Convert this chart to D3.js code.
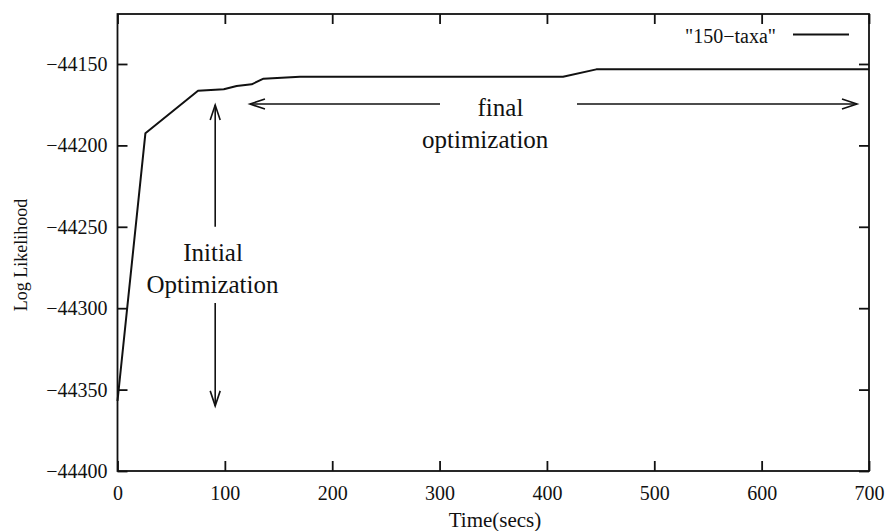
<!DOCTYPE html>
<html>
<head>
<meta charset="utf-8">
<script src="https://cdn.jsdelivr.net/npm/d3@7"></script>
<style>
  html, body { margin: 0; padding: 0; background: #fff; }
  svg { display: block; }
  text { font-family: "Liberation Serif", "Times New Roman", serif; fill: #111; }
</style>
</head>
<body>
<svg id="chart" width="889" height="531"></svg>
<script>
// Run time (seconds) and log likelihood of the 150-taxa search
const times = [0, 26, 75, 99, 111, 125, 136, 170, 415, 446, 700];
const logLikelihood = [-44357, -44192.5, -44166.5, -44165.5, -44163.5, -44162.5, -44159, -44157.8, -44157.8, -44153.3, -44153.3];

const xTicks = [0, 100, 200, 300, 400, 500, 600, 700];
const yTicks = [-44400, -44350, -44300, -44250, -44200, -44150];
const seriesName = "\"150\u2212taxa\"";

// Annotation arrow positions, in data units
const initialArrowX = 91;
const finalArrowY = -44174.6;

const svg = d3.select("#chart");
const plotLeft = 117.5, plotRight = 869, plotTop = 14, plotBottom = 471;

const x = d3.scaleLinear().domain([0, 700]).range([plotLeft, plotRight]);
const y = d3.scaleLinear().domain([-44400, -44119.3]).range([plotBottom, plotTop]);

const ink = "#111";

// Axes with inward ticks on all four sides
const fmt = d => d3.format("d")(d).replace("-", "\u2212");
const gx = svg.append("g").attr("transform", `translate(0,${plotBottom})`)
  .call(d3.axisBottom(x).tickValues(xTicks).tickSize(-10).tickPadding(15).tickFormat(fmt));
const gy = svg.append("g").attr("transform", `translate(${plotLeft},0)`)
  .call(d3.axisLeft(y).tickValues(yTicks).tickSize(-10).tickPadding(10).tickFormat(fmt));
const gt = svg.append("g").attr("transform", `translate(0,${plotTop})`)
  .call(d3.axisTop(x).tickValues(xTicks).tickSize(-10).tickFormat(""));
const gr = svg.append("g").attr("transform", `translate(${plotRight},0)`)
  .call(d3.axisRight(y).tickValues(yTicks).tickSize(-10).tickFormat(""));

[gx, gy, gt, gr].forEach(g => {
  g.select(".domain").remove();
  g.selectAll(".tick line").attr("stroke", ink).attr("stroke-width", 1.8);
  g.selectAll(".tick text").attr("fill", ink).style("font-size", "20px")
    .style("font-family", "'Liberation Serif', serif");
});

// Frame
svg.append("rect")
  .attr("x", plotLeft).attr("y", plotTop)
  .attr("width", plotRight - plotLeft).attr("height", plotBottom - plotTop)
  .attr("fill", "none").attr("stroke", ink).attr("stroke-width", 1.8);

// Data line
const pts = times.map((t, i) => [t, logLikelihood[i]]);
svg.append("path")
  .datum(pts)
  .attr("fill", "none")
  .attr("stroke", ink)
  .attr("stroke-width", 2)
  .attr("stroke-linejoin", "round")
  .attr("d", d3.line().x(d => x(d[0])).y(d => y(d[1])));

// Legend
svg.append("text")
  .attr("x", 776).attr("y", 43)
  .attr("text-anchor", "end")
  .style("font-size", "20px")
  .text(seriesName);
svg.append("line")
  .attr("x1", 793).attr("x2", 849).attr("y1", 34.5).attr("y2", 34.5)
  .attr("stroke", ink).attr("stroke-width", 2);

// Arrow helper: shaft plus an open head at (x2, y2)
function arrow(x1, y1, x2, y2) {
  const px1 = x(x1), py1 = y(y1), px2 = x(x2), py2 = y(y2);
  const ang = Math.atan2(py2 - py1, px2 - px1);
  const len = 15, hw = 5;
  const bx = px2 - len * Math.cos(ang), by = py2 - len * Math.sin(ang);
  const nx = -Math.sin(ang) * hw, ny = Math.cos(ang) * hw;
  const g = svg.append("g").attr("stroke", ink).attr("stroke-width", 1.6).attr("fill", "none");
  g.append("line").attr("x1", px1).attr("y1", py1).attr("x2", px2).attr("y2", py2);
  g.append("path").attr("d", `M${bx + nx},${by + ny}L${px2},${py2}L${bx - nx},${by - ny}`);
}

// Initial optimization: vertical arrows above and below the label
arrow(initialArrowX, -44250, initialArrowX, -44175.2);
arrow(initialArrowX, -44296.8, initialArrowX, -44360);

// Final optimization: horizontal arrows either side of the label
arrow(300.4, finalArrowY, 123.4, finalArrowY);
arrow(428, finalArrowY, 688.8, finalArrowY);

// Annotation labels
const ann = [
  { t: "final", cx: 356.7, by: 116 },
  { t: "optimization", cx: 342.5, by: 148 },
  { t: "Initial", cx: 89, by: 261 },
  { t: "Optimization", cx: 88.5, by: 293 }
];
svg.selectAll("text.ann").data(ann).enter().append("text")
  .attr("class", "ann")
  .attr("x", d => x(d.cx)).attr("y", d => d.by)
  .attr("text-anchor", "middle")
  .style("font-size", "25px")
  .text(d => d.t);

// Axis titles
svg.append("text")
  .attr("x", 495).attr("y", 527)
  .attr("text-anchor", "middle")
  .style("font-size", "21px")
  .text("Time(secs)");
svg.append("text")
  .attr("transform", "translate(27,255) rotate(-90)")
  .attr("text-anchor", "middle")
  .style("font-size", "18px")
  .text("Log Likelihood");
</script>
</body>
</html>
